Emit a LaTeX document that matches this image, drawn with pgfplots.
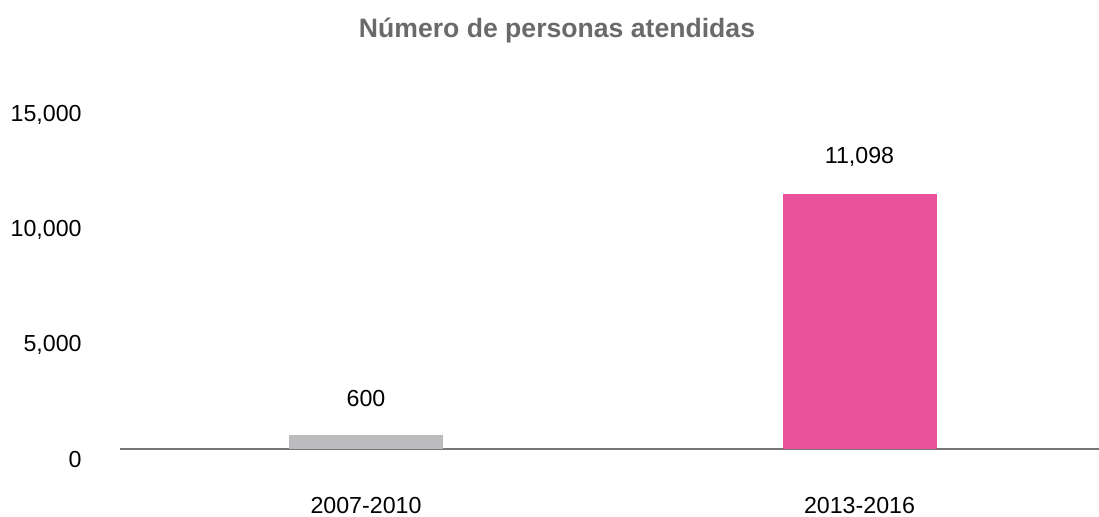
\documentclass[border=0pt]{standalone}
\usepackage{pgfplots}
\pgfplotsset{compat=1.18}
\usepackage{fontspec}
\setmainfont{Liberation Sans}
\definecolor{barpink}{HTML}{EA539B}
\definecolor{bargray}{HTML}{BCBCBE}
\definecolor{titlegray}{HTML}{6A6A6A}
\definecolor{linegray}{HTML}{777777}
\pgfplotsset{/pgf/number format/assume math mode=true}
\begin{document}
\begin{tikzpicture}
  % picture frame: 1 px of the reference = 0.5pt
  \path[use as bounding box] (-60pt,-33.5pt) rectangle (489.5pt,224.5pt);
  \begin{axis}[
    at={(0,0)}, anchor=south west,
    scale only axis,
    width=489.5pt, height=172.35pt,
    xmin=-0.4985, xmax=1.4853,
    ymin=0, ymax=15000,
    axis x line*=bottom,
    axis y line*=left,
    x axis line style={-, draw=linegray, line width=1pt},
    y axis line style={draw=none},
    xtick={0,1},
    xticklabels={2007-2010,2013-2016},
    ytick={0,5000,10000,15000},
    major tick length=0pt,
    tick style={draw=none},
    scaled y ticks=false,
    yticklabel={\pgfmathprintnumber[1000 sep={,},fixed,precision=0]{\tick}},
    ticklabel style={font=\fontsize{11.6}{14}\selectfont, text=black},
    yticklabel style={anchor=east, inner sep=0pt, xshift=-19pt, yshift=-5.5pt},
    xticklabel style={anchor=center, inner sep=0pt, yshift=-28.5pt},
    nodes near coords={\pgfmathprintnumber[1000 sep={,},fixed,precision=0]{\pgfplotspointmeta}},
    nodes near coords style={anchor=center, inner sep=0pt, yshift=18.5pt,
      font=\fontsize{11.6}{14}\selectfont, text=black},
    clip=false,
  ]
  \addplot[ybar, bar width=77pt, bar shift=0pt, fill=bargray, draw=none]
    coordinates {(0,600)};
  \addplot[ybar, bar width=77pt, bar shift=0pt, fill=barpink, draw=none]
    coordinates {(1,11098)};
  \end{axis}
  \node[font=\bfseries\fontsize{13.3}{16}\selectfont, text=titlegray]
    at (218.5pt,209pt) {Número de personas atendidas};
\end{tikzpicture}
\end{document}
